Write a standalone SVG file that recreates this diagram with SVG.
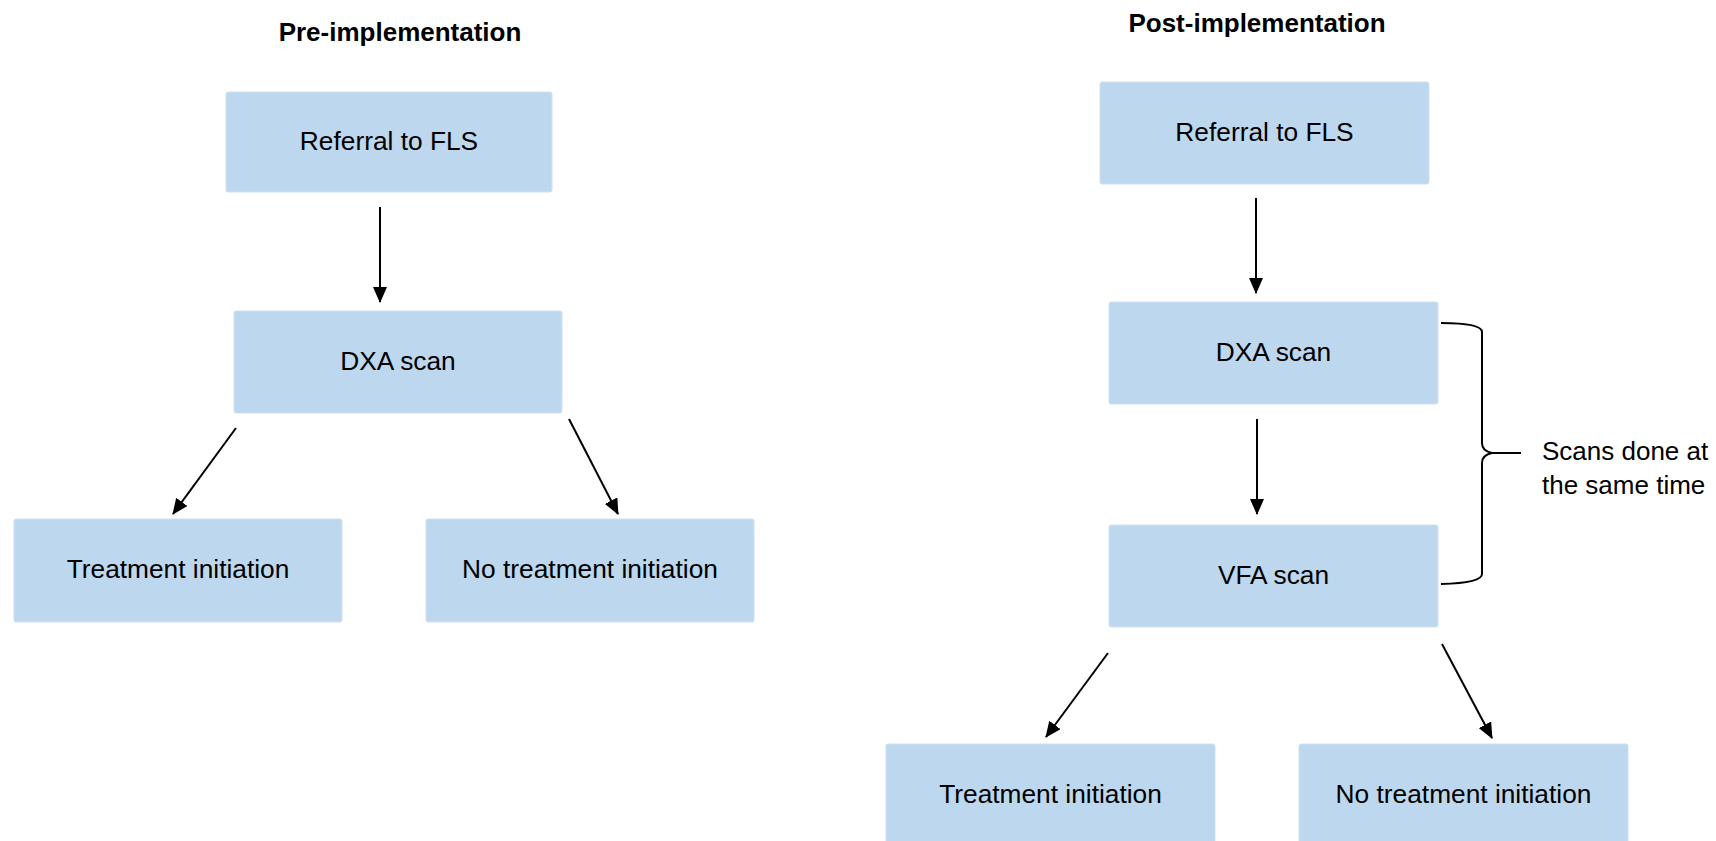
<svg xmlns="http://www.w3.org/2000/svg" width="1716" height="841" viewBox="0 0 1716 841">
  <style>
    .box { fill: #BDD7EE; stroke: #CFE1F2; stroke-width: 1; }
    .lbl { font-family: "Liberation Sans", Arial, sans-serif; font-size: 26.3px; fill: #000; text-anchor: middle; }
    .title { font-family: "Liberation Sans", Arial, sans-serif; font-size: 26px; font-weight: bold; fill: #000; text-anchor: middle; }
    .note { font-family: "Liberation Sans", Arial, sans-serif; font-size: 26px; fill: #000; }
    .conn { stroke: #000; stroke-width: 2; fill: none; marker-end: url(#arrow); }
    .brace { stroke: #000; stroke-width: 2; fill: none; }
  </style>
  <defs>
    <marker id="arrow" markerUnits="userSpaceOnUse" markerWidth="16" markerHeight="14" viewBox="0 0 16 14" refX="15" refY="7" orient="auto">
      <path d="M0,0 L16,7 L0,14 Z" fill="#000"/>
    </marker>
  </defs>
  <rect width="1716" height="841" fill="#fff"/>

  <text class="title" x="400" y="41">Pre-implementation</text>
  <text class="title" x="1257" y="32">Post-implementation</text>

  <g id="pre-referral"><rect class="box" x="226" y="92" width="326" height="100" rx="2"/><text class="lbl" x="389" y="149.5">Referral to FLS</text></g>
  <g id="pre-dxa"><rect class="box" x="234" y="311" width="328" height="102" rx="2"/><text class="lbl" x="398" y="369.5">DXA scan</text></g>
  <g id="pre-treat"><rect class="box" x="14" y="519" width="328" height="103" rx="2"/><text class="lbl" x="178" y="578">Treatment initiation</text></g>
  <g id="pre-notreat"><rect class="box" x="426" y="519" width="328" height="103" rx="2"/><text class="lbl" x="590" y="578">No treatment initiation</text></g>

  <g id="post-referral"><rect class="box" x="1100" y="82" width="329" height="102" rx="2"/><text class="lbl" x="1264.5" y="140.5">Referral to FLS</text></g>
  <g id="post-dxa"><rect class="box" x="1109" y="302" width="329" height="102" rx="2"/><text class="lbl" x="1273.5" y="360.5">DXA scan</text></g>
  <g id="post-vfa"><rect class="box" x="1109" y="525" width="329" height="102" rx="2"/><text class="lbl" x="1273.5" y="583.5">VFA scan</text></g>
  <g id="post-treat"><rect class="box" x="886" y="744" width="329" height="104" rx="2"/><text class="lbl" x="1050.5" y="802.5">Treatment initiation</text></g>
  <g id="post-notreat"><rect class="box" x="1299" y="744" width="329" height="104" rx="2"/><text class="lbl" x="1463.5" y="802.5">No treatment initiation</text></g>

  <g id="brace-note">
    <path class="brace" d="M1441,323 Q1482,323 1482,332 L1482,443 Q1482,451 1492,453 L1521,453 M1492,453 Q1482,455 1482,463 L1482,574 Q1482,583 1441,584"/>
    <text class="note" x="1542" y="460">Scans done at</text>
    <text class="note" x="1542" y="494">the same time</text>
  </g>

  <g id="connectors">
    <line class="conn" x1="380" y1="207" x2="380" y2="302"/>
    <line class="conn" x1="236" y1="428" x2="173" y2="514"/>
    <line class="conn" x1="569" y1="419" x2="618" y2="514"/>
    <line class="conn" x1="1256" y1="198" x2="1256" y2="293"/>
    <line class="conn" x1="1257" y1="419" x2="1257" y2="514"/>
    <line class="conn" x1="1108" y1="653" x2="1046" y2="737"/>
    <line class="conn" x1="1442" y1="644" x2="1492" y2="738"/>
  </g>
</svg>
